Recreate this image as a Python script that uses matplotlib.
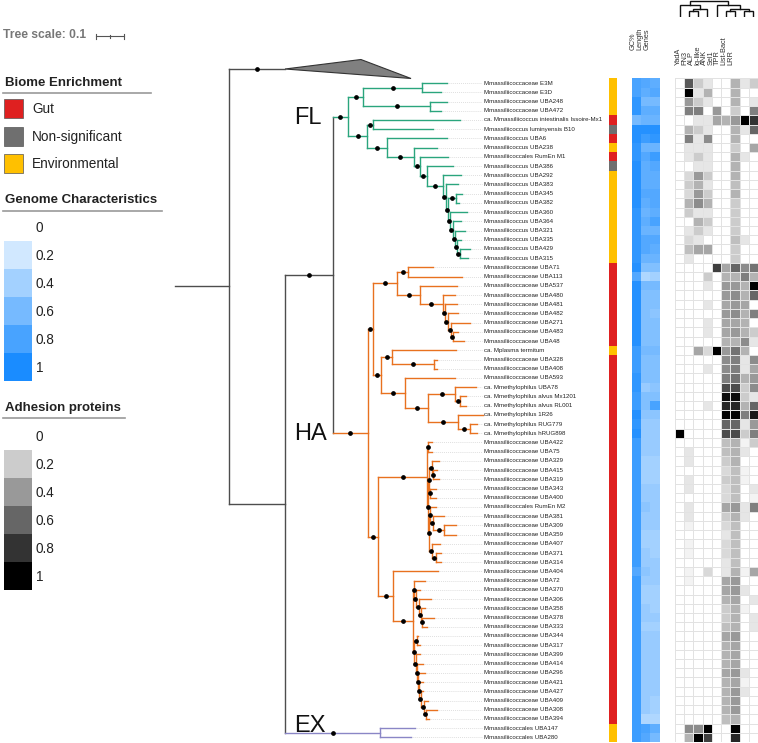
import matplotlib

matplotlib.use("Agg")
import matplotlib.pyplot as plt
import numpy as np
from matplotlib.collections import LineCollection
from matplotlib.colors import LinearSegmentedColormap, ListedColormap, Normalize
from matplotlib.patches import Polygon, Rectangle

plt.rcParams["font.family"] = ["Liberation Sans", "DejaVu Sans"]

# ---------------------------------------------------------------- data
leaf_names = [
    "Mmassiliicoccaceae E3M", "Mmassiliicoccaceae E3D", "Mmassiliicoccaceae UBA248",
    "Mmassiliicoccaceae UBA472", "ca. Mmassiliicoccus intestinalis Issoire-Mx1",
    "Mmassiliicoccus luminyensis B10", "Mmassiliicoccus UBA6", "Mmassiliicoccus UBA238",
    "Mmassiliicoccales RumEn M1", "Mmassiliicoccus UBA386", "Mmassiliicoccus UBA292",
    "Mmassiliicoccus UBA383", "Mmassiliicoccus UBA345", "Mmassiliicoccus UBA382",
    "Mmassiliicoccus UBA360", "Mmassiliicoccus UBA364", "Mmassiliicoccus UBA321",
    "Mmassiliicoccus UBA335", "Mmassiliicoccus UBA429", "Mmassiliicoccus UBA315",
    "Mmassiliicoccaceae UBA71", "Mmassiliicoccaceae UBA113", "Mmassiliicoccaceae UBA537",
    "Mmassiliicoccaceae UBA480", "Mmassiliicoccaceae UBA481", "Mmassiliicoccaceae UBA482",
    "Mmassiliicoccaceae UBA271", "Mmassiliicoccaceae UBA483", "Mmassiliicoccaceae UBA48",
    "ca. Mplasma termitum", "Mmassiliicoccaceae UBA328", "Mmassiliicoccaceae UBA408",
    "Mmassiliicoccaceae UBA593", "ca. Mmethylophilus UBA78", "ca. Mmethylophilus alvus Mx1201",
    "ca. Mmethylophilus alvus RL001", "ca. Mmethylophilus 1R26", "ca. Mmethylophilus RUG779",
    "ca. Mmethylophilus hRUG898", "Mmassiliicoccaceae UBA422", "Mmassiliicoccaceae UBA75",
    "Mmassiliicoccaceae UBA329", "Mmassiliicoccaceae UBA415", "Mmassiliicoccaceae UBA319",
    "Mmassiliicoccaceae UBA343", "Mmassiliicoccaceae UBA400", "Mmassiliicoccales RumEn M2",
    "Mmassiliicoccaceae UBA381", "Mmassiliicoccaceae UBA309", "Mmassiliicoccaceae UBA359",
    "Mmassiliicoccaceae UBA407", "Mmassiliicoccaceae UBA371", "Mmassiliicoccaceae UBA314",
    "Mmassiliicoccaceae UBA404", "Mmassiliicoccaceae UBA72", "Mmassiliicoccaceae UBA370",
    "Mmassiliicoccaceae UBA306", "Mmassiliicoccaceae UBA358", "Mmassiliicoccaceae UBA378",
    "Mmassiliicoccaceae UBA333", "Mmassiliicoccaceae UBA344", "Mmassiliicoccaceae UBA317",
    "Mmassiliicoccaceae UBA399", "Mmassiliicoccaceae UBA414", "Mmassiliicoccaceae UBA296",
    "Mmassiliicoccaceae UBA421", "Mmassiliicoccaceae UBA427", "Mmassiliicoccaceae UBA409",
    "Mmassiliicoccaceae UBA308", "Mmassiliicoccaceae UBA394", "Mmassiliicoccales UBA147",
    "Mmassiliicoccales UBA280",
]

# (node, parent, branch length); integer nodes are leaves (index into leaf_names)
tree_edges = [
    ("root", None, 0.193),
    ("COL", "root", 0.200),
    ("N1", "root", 0.200),
    ("N2", "N1", 0.171),
    ("FL", "N2", 0.054),
    ("fa", "FL", 0.054),
    ("fa1", "fa", 0.211), (0, "fa1", 0.089), (1, "fa1", 0.068),
    ("fa2", "fa", 0.239), (2, "fa2", 0.061), (3, "fa2", 0.039),
    ("fb", "FL", 0.068),
    ("fb1", "fb", 0.021), (4, "fb1", 0.311), (5, "fb1", 0.214),
    ("fb2", "fb", 0.071), (6, "fb2", 0.214),
    ("fb3", "fb2", 0.096), (7, "fb3", 0.082),
    ("fb4", "fb3", 0.021), (8, "fb4", 0.100),
    ("fb5", "fb4", 0.025), (9, "fb5", 0.093),
    ("fb6", "fb5", 0.057), (10, "fb6", 0.064),
    ("fl1", "fb6", 0.011), (11, "fl1", 0.043),
    ("fl2", "fl1", 0.007),
    ("fl3", "fl2", 0.029), (12, "fl3", 0.021), (13, "fl3", 0.011),
    ("fl4", "fl2", 0.007), (14, "fl4", 0.061),
    ("fl5", "fl4", 0.011), (15, "fl5", 0.029),
    ("fl6", "fl5", 0.007), (16, "fl6", 0.036),
    ("fl7", "fl6", 0.007), (17, "fl7", 0.014),
    ("fl8", "fl7", 0.011), (18, "fl8", 0.036), (19, "fl8", 0.029),
    ("HA", "N2", 0.125),
    ("hu", "HA", 0.018),
    ("hu1", "hu", 0.086),
    ("hu1a", "hu1", 0.039), (20, "hu1a", 0.089), (21, "hu1a", 0.193),
    ("hu1b", "hu1", 0.082), (22, "hu1b", 0.132),
    ("hu1c", "hu1b", 0.082), (23, "hu1c", 0.043),
    ("m1", "hu1c", 0.007), (24, "m1", 0.043),
    ("m2", "m1", 0.011), (25, "m2", 0.036),
    ("m3", "m2", 0.011), (26, "m3", 0.068),
    ("m4", "m3", 0.007), (27, "m4", 0.018), (28, "m4", 0.039),
    ("hu2", "hu", 0.029),
    ("hu2a", "hu2", 0.039), (29, "hu2a", 0.229),
    ("hu2a1", "hu2a", 0.150), (30, "hu2a1", 0.011), (31, "hu2a1", 0.011),
    ("hu2b", "hu2", 0.086), (32, "hu2b", 0.179),
    ("hu2c", "hu2b", 0.082),
    ("k1", "hu2c", 0.096), (33, "k1", 0.075),
    ("k2", "k1", 0.018), (34, "k2", 0.021), (35, "k2", 0.021),
    ("k3", "hu2c", 0.107), (36, "k3", 0.089),
    ("k4", "k3", 0.043), (37, "k4", 0.025), (38, "k4", 0.025),
    ("hl", "HA", 0.036),
    ("hl1", "hl", 0.175),
    ("a", "hl1", 0.004), (39, "a", 0.014), (40, "a", 0.014),
    ("b", "hl1", 0.004),
    ("c", "b", 0.004),
    ("c1", "c", 0.011), (41, "c1", 0.025),
    ("c2", "c1", 0.004), (42, "c2", 0.011), (43, "c2", 0.021),
    ("c3", "c", 0.004), (44, "c3", 0.021), (45, "c3", 0.021),
    ("d", "b", 0.004),
    ("e", "d", 0.004), (46, "e", 0.021),
    ("e1", "e", 0.011), (47, "e1", 0.039),
    ("e2", "e1", 0.039), (48, "e2", 0.043), (49, "e2", 0.043),
    ("f", "d", 0.011), (50, "f", 0.029),
    ("f1", "f", 0.014), (51, "f1", 0.018), (52, "f1", 0.018),
    ("hl2", "hl", 0.054), (53, "hl2", 0.161),
    ("hl3", "hl2", 0.071),
    ("g", "hl3", 0.004), (54, "g", 0.039),
    ("g1", "g", 0.007), (55, "g1", 0.014),
    ("g2", "g1", 0.011), (56, "g2", 0.043),
    ("g3", "g2", 0.007), (57, "g3", 0.014),
    ("g4", "g3", 0.004), (58, "g4", 0.043), (59, "g4", 0.018),
    ("h", "hl3", 0.004),
    ("h1", "h", 0.011), (60, "h1", 0.004), (61, "h1", 0.011),
    ("h2", "h", 0.007), (62, "h2", 0.014),
    ("h3", "h2", 0.004), (63, "h3", 0.021),
    ("h4", "h3", 0.004), (64, "h4", 0.025),
    ("h5", "h4", 0.004), (65, "h5", 0.011),
    ("h6", "h5", 0.007), (66, "h6", 0.007),
    ("h7", "h6", 0.011), (67, "h7", 0.014),
    ("h8", "h7", 0.004), (68, "h8", 0.039), (69, "h8", 0.011),
    ("EX", "N1", 0.339), (70, "EX", 0.125), (71, "EX", 0.111),
]

# collapsed clade drawn as a triangle above the first leaf
collapsed_row = -1.53
collapsed_rows = (-2.56, -0.5)
collapsed_tip_lengths = (0.271, 0.45)

# biome enrichment: E environmental, G gut, N non-significant
biome = (
    "EEEEGNGEGN" "EEEEEEEEEE"
    "GGGGGGGGGE" "GGGGGGGGGG" "GGGGGGGGGG" "GGGGGGGGGG" "GGGGGGGGGG"
    "EE"
)

gc_content = [
    0.8, 0.8, 0.9, 0.9, 0.6, 0.95, 0.95, 0.9, 0.9, 0.95,
    0.95, 0.95, 0.95, 0.95, 0.9, 0.9, 0.9, 0.9, 0.9, 0.9,
    0.95, 0.75, 0.95, 0.95, 0.95, 0.95, 0.95, 0.95, 0.95, 0.85,
    0.85, 0.85, 0.9, 0.9, 0.85, 0.85, 0.95, 0.9, 0.95, 0.85,
    0.85, 0.85, 0.85, 0.85, 0.85, 0.85, 0.85, 0.85, 0.85, 0.85,
    0.85, 0.85, 0.85, 0.75, 0.85, 0.85, 0.85, 0.85, 0.85, 0.85,
    0.85, 0.85, 0.85, 0.85, 0.85, 0.85, 0.85, 0.85, 0.85, 0.85,
    0.85, 0.85,
]
genome_length = [
    0.75, 0.7, 0.6, 0.7, 0.65, 0.95, 0.85, 0.65, 0.75, 0.7,
    0.7, 0.7, 0.75, 0.7, 0.65, 0.7, 0.65, 0.75, 0.75, 0.65,
    0.55, 0.35, 0.6, 0.55, 0.55, 0.55, 0.55, 0.55, 0.55, 0.6,
    0.55, 0.55, 0.55, 0.45, 0.55, 0.55, 0.5, 0.45, 0.45, 0.45,
    0.45, 0.4, 0.4, 0.4, 0.45, 0.45, 0.5, 0.45, 0.45, 0.4,
    0.4, 0.45, 0.45, 0.5, 0.45, 0.4, 0.4, 0.45, 0.45, 0.4,
    0.45, 0.45, 0.45, 0.45, 0.45, 0.45, 0.45, 0.45, 0.45, 0.35,
    0.8, 0.75,
]
gene_count = [
    0.7, 0.75, 0.6, 0.7, 0.65, 0.95, 0.9, 0.65, 0.85, 0.75,
    0.7, 0.7, 0.75, 0.75, 0.7, 0.8, 0.65, 0.75, 0.7, 0.65,
    0.55, 0.4, 0.6, 0.55, 0.55, 0.5, 0.55, 0.55, 0.55, 0.6,
    0.55, 0.55, 0.55, 0.5, 0.55, 0.8, 0.5, 0.45, 0.45, 0.45,
    0.45, 0.4, 0.4, 0.4, 0.45, 0.45, 0.45, 0.45, 0.45, 0.4,
    0.4, 0.4, 0.45, 0.45, 0.45, 0.4, 0.4, 0.4, 0.45, 0.4,
    0.45, 0.45, 0.45, 0.45, 0.45, 0.45, 0.45, 0.4, 0.4, 0.35,
    0.7, 0.6,
]
genome_labels = ["GC%", "Length", "Genes"]

yada = [
    0, 0, 0, 0, 0, 0, 0, 0, 0, 0,
    0, 0, 0, 0, 0, 0, 0, 0, 0, 0,
    0, 0, 0, 0, 0, 0, 0, 0, 0, 0,
    0, 0, 0, 0, 0, 0, 0, 0, 1.0, 0,
    0, 0, 0, 0, 0, 0, 0, 0, 0, 0,
    0, 0, 0, 0, 0, 0, 0, 0, 0, 0,
    0, 0, 0, 0, 0, 0, 0, 0, 0, 0,
    0, 0,
]
fn3 = [
    0.65, 1.0, 0.4, 0.5, 0, 0.3, 0.5, 0.1, 0.1, 0,
    0.15, 0.2, 0.15, 0.3, 0.2, 0, 0.1, 0.15, 0.25, 0.1,
    0, 0, 0, 0, 0, 0, 0, 0, 0, 0,
    0, 0, 0, 0, 0, 0, 0, 0, 0, 0,
    0.1, 0.1, 0, 0.1, 0.1, 0, 0.1, 0.1, 0.05, 0,
    0.05, 0.05, 0, 0.05, 0.05, 0, 0, 0, 0, 0,
    0, 0, 0, 0, 0, 0, 0, 0, 0, 0,
    0.45, 0.3,
]
alp = [
    0.2, 0.1, 0.2, 0.5, 0.1, 0.2, 0.1, 0.1, 0.2, 0.1,
    0.4, 0.3, 0.4, 0.45, 0.1, 0.3, 0.2, 0.1, 0.35, 0,
    0, 0, 0, 0, 0, 0, 0, 0, 0, 0.35,
    0, 0, 0, 0, 0, 0, 0, 0, 0, 0,
    0, 0, 0, 0, 0, 0, 0, 0, 0, 0,
    0, 0, 0, 0, 0, 0, 0, 0, 0, 0,
    0, 0, 0, 0, 0, 0, 0, 0, 0, 0,
    0.45, 1.0,
]
ig_like = [
    0.1, 0.3, 0.1, 0, 0.1, 0.1, 0.45, 0.1, 0.1, 0.1,
    0.2, 0.1, 0.2, 0.3, 0.1, 0.2, 0.1, 0, 0.35, 0,
    0, 0.2, 0.1, 0, 0.1, 0, 0.1, 0.1, 0, 0.15,
    0, 0.1, 0, 0, 0, 0.1, 0, 0, 0, 0,
    0, 0, 0, 0, 0, 0, 0, 0, 0, 0,
    0, 0, 0, 0.15, 0, 0, 0, 0, 0, 0,
    0, 0, 0, 0, 0, 0, 0, 0, 0, 0,
    1.0, 0.75,
]
ank = [
    0, 0, 0, 0.4, 0.35, 0, 0, 0, 0, 0,
    0, 0, 0, 0, 0, 0, 0, 0, 0, 0,
    0.75, 0, 0, 0, 0, 0, 0, 0, 0, 1.0,
    0, 0, 0, 0, 0, 0, 0, 0, 0, 0,
    0, 0, 0, 0, 0, 0, 0, 0, 0, 0,
    0, 0, 0, 0, 0, 0, 0, 0, 0, 0,
    0, 0, 0, 0, 0, 0, 0, 0, 0, 0,
    0, 0,
]
sel1 = [
    0, 0, 0, 0, 0.3, 0, 0, 0, 0, 0,
    0, 0, 0, 0, 0, 0, 0, 0, 0, 0,
    0.35, 0.3, 0.4, 0.4, 0.35, 0.4, 0.35, 0.35, 0.3, 0.4,
    0.45, 0.45, 0.5, 0.7, 0.95, 0.85, 1.0, 0.6, 0.7, 0.25,
    0.25, 0.2, 0.15, 0.2, 0.15, 0.15, 0.35, 0.2, 0.15, 0.1,
    0.15, 0.15, 0.1, 0.1, 0.35, 0.35, 0.3, 0.2, 0.2, 0.25,
    0.35, 0.3, 0.3, 0.3, 0.35, 0.3, 0.3, 0.3, 0.3, 0.25,
    0, 0,
]
tpr = [
    0.3, 0.3, 0.3, 0.2, 0.4, 0.3, 0.3, 0.2, 0.3, 0.3,
    0.3, 0.25, 0.3, 0.2, 0.2, 0.2, 0.2, 0.25, 0.2, 0.2,
    0.6, 0.3, 0.4, 0.45, 0.4, 0.45, 0.35, 0.4, 0.3, 0.55,
    0.5, 0.5, 0.55, 0.7, 0.95, 0.85, 1.0, 0.6, 0.7, 0.3,
    0.3, 0.3, 0.25, 0.25, 0.25, 0.25, 0.4, 0.3, 0.25, 0.25,
    0.25, 0.25, 0.25, 0.3, 0.4, 0.4, 0.35, 0.3, 0.3, 0.3,
    0.4, 0.35, 0.35, 0.35, 0.4, 0.35, 0.4, 0.4, 0.4, 0.3,
    1.0, 0.85,
]
list_bact = [
    0.1, 0, 0, 0, 1.0, 0.1, 0, 0, 0.1, 0,
    0, 0, 0, 0, 0, 0, 0, 0.1, 0, 0,
    0.45, 0.5, 0.3, 0.3, 0.35, 0.3, 0.3, 0.3, 0.45, 0.3,
    0.1, 0.1, 0.3, 0.2, 0.2, 0.3, 0.5, 0.1, 0.2, 0.05,
    0.1, 0, 0.05, 0.05, 0, 0, 0.1, 0.1, 0, 0,
    0, 0, 0, 0.05, 0, 0.1, 0, 0.05, 0, 0,
    0, 0, 0, 0, 0.1, 0.05, 0.1, 0, 0, 0,
    0, 0,
]
lrr = [
    0.2, 0, 0.1, 0.5, 0.8, 0.6, 0, 0.35, 0, 0,
    0, 0, 0, 0, 0, 0, 0, 0, 0, 0,
    0.55, 0.3, 1.0, 0.6, 0, 0.5, 0, 0.2, 0.1, 0,
    0.45, 0.35, 0.4, 0.45, 0.1, 0.6, 0.9, 0.4, 0.5, 0.2,
    0, 0, 0, 0, 0.1, 0.05, 0.5, 0, 0, 0,
    0, 0, 0, 0.35, 0, 0, 0.1, 0, 0.1, 0.1,
    0, 0, 0, 0, 0, 0, 0, 0, 0, 0,
    0, 0,
]
adhesion_labels = ["YadA", "FN3", "ALP", "Ig-like", "ANK", "Sel1", "TPR", "List-Bact", "LRR"]
# column clustering shown above the adhesion heatmap: (height, left, right)
adhesion_dendro = (0.95, (0.7, 0, (0.5, (0.38, 1, 2), 3)),
                   (0.7, 4, (0.5, (0.38, 5, 6), (0.38, 7, 8))))

legend_levels = [0.2, 0.4, 0.6, 0.8, 1.0]
tree_scale = 0.1

# ---------------------------------------------------------------- style
W, H = 758, 743
PX_PER_UNIT = 280.0
ROOT_X = 175.0
ROW0_Y, ROW_H = 83.1, 9.215
LABEL_X = (484 - ROOT_X) / PX_PER_UNIT

backbone = "#4d4d4d"
clade_colors = {"FL": "#2aa57d", "HA": "#e8711f", "EX": "#8a86c6"}
biome_colors = {"G": "#df2020", "N": "#6f6f6f", "E": "#ffc000"}
blue_cmap = LinearSegmentedColormap.from_list("genome", ["#ffffff", "#1a8cff"])
gray_cmap = LinearSegmentedColormap.from_list("adhesion", ["#ffffff", "#000000"])
norm = Normalize(0, 1)

fig = plt.figure(figsize=(W / 100, H / 100), dpi=100)

ax_px = fig.add_axes([0, 0, 1, 1])
ax_px.set_xlim(0, W)
ax_px.set_ylim(H, 0)
ax_px.axis("off")

ax_tree = fig.add_axes([0, 0, 1, 1])
ax_tree.set_xlim(-ROOT_X / PX_PER_UNIT, (W - ROOT_X) / PX_PER_UNIT)
ax_tree.set_ylim((H - ROW0_Y) / ROW_H, -ROW0_Y / ROW_H)
ax_tree.axis("off")
ax_tree.patch.set_alpha(0)

# ---------------------------------------------------------------- tree
children, length = {}, {}
for node, parent, bl in tree_edges:
    length[node] = bl
    children.setdefault(node, [])
    if parent is not None:
        children.setdefault(parent, []).append(node)

xpos, ypos, color = {}, {}, {}


def layout(node, x0, c):
    x = x0 + length[node]
    xpos[node] = x
    c = clade_colors.get(node, c)
    color[node] = c
    kids = children[node]
    if not kids:
        ypos[node] = collapsed_row if node == "COL" else node
        return
    for k in kids:
        layout(k, x, c)
    ypos[node] = (ypos[kids[0]] + ypos[kids[-1]]) / 2


layout("root", 0.0, backbone)

segs, cols = [], []
for node, parent, _ in tree_edges:
    x0 = 0.0 if parent is None else xpos[parent]
    segs.append([(x0, ypos[node]), (xpos[node], ypos[node])])
    cols.append(color[node])
    kids = children[node]
    if kids:
        segs.append([(xpos[node], ypos[kids[0]]), (xpos[node], ypos[kids[-1]])])
        cols.append(color[node])
ax_tree.add_collection(LineCollection(segs, colors=cols, linewidths=1.0, capstyle="projecting"))

tri = Polygon(
    [
        (xpos["COL"], ypos["COL"]),
        (xpos["COL"] + collapsed_tip_lengths[0], collapsed_rows[0]),
        (xpos["COL"] + collapsed_tip_lengths[1], collapsed_rows[1]),
    ],
    closed=True, facecolor="#808080", edgecolor="#333333", linewidth=0.8,
)
ax_tree.add_patch(tri)

no_dot = {"root", "N1"}
for node, parent, _ in tree_edges:
    if isinstance(node, int) or node in no_dot:
        continue
    ax_tree.plot((xpos[parent] + xpos[node]) / 2, ypos[node], "o", ms=2.4,
                 color="black", zorder=5)

for i, name in enumerate(leaf_names):
    ax_tree.plot([xpos[i], LABEL_X - 0.008], [i, i], color="#cccccc",
                 lw=0.5, ls=(0, (1.2, 1.6)), zorder=1)
    ax_tree.text(LABEL_X, i, name, fontsize=4.4, va="center", ha="left", color="#222222")

for label, y in [("FL", 124), ("HA", 439.5), ("EX", 731.7)]:
    ax_px.text(294, y, label, fontsize=17, va="baseline", ha="left", color="#111111")

# ---------------------------------------------------------------- heatmaps
n_rows = len(leaf_names)
top_px = ROW0_Y - ROW_H / 2
bot_px = ROW0_Y + (n_rows - 0.5) * ROW_H


def strip_axes(x0, x1):
    ax = fig.add_axes([x0 / W, 1 - bot_px / H, (x1 - x0) / W, (bot_px - top_px) / H])
    ax.axis("off")
    return ax


def draw_matrix(ax, values, cmap, norm_, edge=None):
    mat = np.asarray(values, dtype=float)
    xe = np.arange(mat.shape[1] + 1) - 0.5
    ye = np.arange(mat.shape[0] + 1) - 0.5
    kw = dict(edgecolors=edge, linewidth=0.4) if edge else {}
    ax.pcolormesh(xe, ye, mat, cmap=cmap, norm=norm_, **kw)
    ax.set_xlim(xe[0], xe[-1])
    ax.set_ylim(ye[-1], ye[0])


biome_keys = ["G", "N", "E"]
biome_idx = [[biome_keys.index(b)] for b in biome]
ax_b = strip_axes(609, 617)
draw_matrix(ax_b, biome_idx, ListedColormap([biome_colors[k] for k in biome_keys]),
            Normalize(-0.5, 2.5))

genome = np.column_stack([gc_content, genome_length, gene_count])
ax_g = strip_axes(632, 659.6)
draw_matrix(ax_g, genome, blue_cmap, norm)

adhesion = np.column_stack([yada, fn3, alp, ig_like, ank, sel1, tpr, list_bact, lrr])
ax_a = strip_axes(675, 758)
draw_matrix(ax_a, adhesion, gray_cmap, norm, edge="#e2e2e2")

for x, lab in zip(np.linspace(633, 647, len(genome_labels)), genome_labels):
    ax_px.text(x, 50, lab, rotation=90, ha="center", va="bottom", fontsize=5.3, color="#333333")
for x, lab in zip(np.linspace(678, 731, len(adhesion_labels)), adhesion_labels):
    ax_px.text(x, 65, lab, rotation=90, ha="center", va="bottom", fontsize=5.3, color="#333333")

ax_d = fig.add_axes([675 / W, 1 - 17 / H, 83 / W, 17 / H])
ax_d.set_xlim(-0.5, len(adhesion_labels) - 0.5)
ax_d.set_ylim(0, 1)
ax_d.axis("off")


def draw_dendro(node):
    if isinstance(node, int):
        return node, 0.0
    h, left, right = node
    lx, lh = draw_dendro(left)
    rx, rh = draw_dendro(right)
    ax_d.plot([lx, lx, rx, rx], [lh, h, h, rh], color="#111111", lw=1.0,
              solid_joinstyle="miter")
    return (lx + rx) / 2, h


draw_dendro(adhesion_dendro)

# ---------------------------------------------------------------- legend
ax_px.text(3, 38.3, "Tree scale: 0.1", fontsize=8.7, fontweight="bold", color="#777777",
           va="baseline")
bar_x0 = 96
bar_x1 = bar_x0 + tree_scale * PX_PER_UNIT
ax_px.plot([bar_x0, bar_x1], [36, 36], color="#555555", lw=0.8)
for bx, half in [(bar_x0, 2.5), ((bar_x0 + bar_x1) / 2, 1.5), (bar_x1, 2.5)]:
    ax_px.plot([bx, bx], [36 - half, 36 + half], color="#555555", lw=0.8)


def legend_title(text, y, underline_to):
    ax_px.text(5, y, text, fontsize=9.5, fontweight="bold", color="#222222", va="baseline")
    ax_px.plot([3, underline_to], [y + 7.5, y + 7.5], color="#9a9a9a", lw=1.2)


legend_title("Biome Enrichment", 85.7, 151)
for k, (key, lab) in enumerate([("G", "Gut"), ("N", "Non-significant"), ("E", "Environmental")]):
    y0 = 99 + 27.5 * k
    ax_px.add_patch(Rectangle((4, y0), 19, 19, facecolor=biome_colors[key],
                              edgecolor="#555555", linewidth=0.5))
    ax_px.text(32, y0 + 14, lab, fontsize=9.8, color="#222222", va="baseline")

for title, ty, uline, y_box, cmap in [
    ("Genome Characteristics", 203.3, 162, 241, blue_cmap),
    ("Adhesion proteins", 410.7, 125, 450, gray_cmap),
]:
    legend_title(title, ty, uline)
    ax_px.text(36, y_box - 9, "0", fontsize=9.8, color="#222222", va="baseline")
    for k, lv in enumerate(legend_levels):
        ax_px.add_patch(Rectangle((4, y_box + 28 * k), 28, 28, facecolor=cmap(norm(lv)),
                                  edgecolor="none"))
        ax_px.text(36, y_box + 28 * k + 19, f"{lv:g}", fontsize=9.8, color="#222222",
                   va="baseline")

fig.savefig("out.png", dpi=100)
